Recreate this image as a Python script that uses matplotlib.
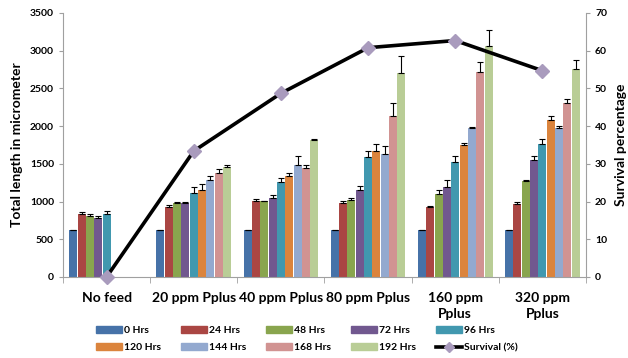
import matplotlib.pyplot as plt
import matplotlib.patches as mpatches
from matplotlib.lines import Line2D
import numpy as np

plt.rcParams['font.family'] = ['Lato', 'DejaVu Sans']

groups = ['No feed', '20 ppm Pplus', '40 ppm Pplus', '80 ppm Pplus',
          '160 ppm\nPplus', '320 ppm\nPplus']
hours = ['0 Hrs', '24 Hrs', '48 Hrs', '72 Hrs', '96 Hrs',
         '120 Hrs', '144 Hrs', '168 Hrs', '192 Hrs']
colors = ['#4672a8', '#aa4643', '#89a54e', '#71588f', '#4198af',
          '#db843d', '#93a9cf', '#d19392', '#b9cd96']

# rows = hours, columns = groups (nan = no bar)
nan = np.nan
length = [
    [620, 620, 620, 620, 620, 620],
    [832, 934, 1009, 982, 934, 969],
    [810, 978, 1004, 1027, 1097, 1270],
    [783, 987, 1044, 1150, 1195, 1549],
    [832, 1115, 1257, 1589, 1527, 1766],
    [nan, 1159, 1341, 1664, 1748, 2075],
    [nan, 1288, 1487, 1633, 1978, 1978],
    [nan, 1381, 1451, 2133, 2717, 2305],
    [nan, 1456, 1814, 2699, 3067, 2761],
]
errors = [
    [0, 0, 0, 0, 0, 0],
    [35, 22, 31, 25, 10, 26],
    [27, 13, 10, 15, 62, 22],
    [27, 13, 49, 60, 88, 49],
    [49, 84, 49, 80, 75, 66],
    [nan, 80, 44, 93, 30, 66],
    [nan, 49, 115, 110, 13, 22],
    [nan, 49, 31, 168, 128, 53],
    [nan, 27, 22, 230, 212, 120],
]
survival = [0, 33.4, 48.7, 60.8, 62.7, 54.7]

fig = plt.figure(figsize=(6.28, 3.58), dpi=100)
ax = fig.add_axes([63 / 628, 1 - 277 / 358, 523 / 628, 264 / 358])

x = np.arange(len(groups))
n = len(hours)
w = 0.862 / n
handles = []
for i in range(n):
    pos = x - 0.431 + w * (i + 0.5)
    vals = np.array(length[i], dtype=float)
    errs = np.array(errors[i], dtype=float)
    ax.bar(pos, vals, width=w * 0.96, color=colors[i], edgecolor='none', zorder=2)
    ok = ~np.isnan(vals)
    ax.errorbar(pos[ok], vals[ok], yerr=[np.zeros(ok.sum()), errs[ok]],
                fmt='none', ecolor='black', elinewidth=0.8, capsize=2.2,
                capthick=0.8, zorder=3)
    handles.append(mpatches.Patch(color=colors[i], label=hours[i]))

ax.set_xlim(-0.5, len(groups) - 0.5)
ax.set_ylim(0, 3500)
ax.set_yticks(np.arange(0, 3501, 500))
ax.set_xticks(x)
ax.set_xticklabels(groups, fontsize=10, fontweight='bold', linespacing=1.35)
ax.set_xticks(np.arange(-0.5, len(groups), 1), minor=True)
ax.tick_params(axis='x', which='major', length=0, pad=11)
ax.tick_params(axis='x', which='minor', length=4, color='#a0a0a0', direction='out')
ax.tick_params(axis='y', labelsize=7.5, length=3, color='#a0a0a0')
for lab in ax.get_yticklabels():
    lab.set_fontweight('bold')
ax.set_ylabel('Total length in micrometer', fontsize=10, fontweight='bold', labelpad=5)
for s in ['top', 'right']:
    ax.spines[s].set_visible(False)
for s in ['left', 'bottom']:
    ax.spines[s].set_color('#a0a0a0')

ax2 = ax.twinx()
ax2.plot(x, survival, color='black', lw=2.6, marker='D', markersize=7,
         markerfacecolor='#a99bbd', markeredgecolor='#a99bbd', zorder=5,
         clip_on=False)
ax2.set_ylim(0, 70)
ax2.set_yticks(np.arange(0, 71, 10))
ax2.tick_params(axis='y', labelsize=7.5, length=3, color='#a0a0a0')
for lab in ax2.get_yticklabels():
    lab.set_fontweight('bold')
ax2.set_ylabel('Survival percentage', fontsize=10, fontweight='bold', labelpad=6)
for s in ['top', 'left', 'bottom']:
    ax2.spines[s].set_visible(False)
ax2.spines['right'].set_color('#a0a0a0')

handles.append(Line2D([0], [0], color='black', lw=2.6, marker='D', markersize=5,
                      markerfacecolor='#a99bbd', markeredgecolor='#a99bbd',
                      label='Survival (%)'))
order = [0, 5, 1, 6, 2, 7, 3, 8, 4, 9]
leg = fig.legend([handles[k] for k in order], [handles[k].get_label() for k in order],
                 ncol=5, loc='center', bbox_to_anchor=(0.489, 0.053),
                 frameon=False, handlelength=2.5, handleheight=0.7,
                 handletextpad=0.2, columnspacing=1.9, labelspacing=0.75,
                 prop={'size': 7.5, 'weight': 'bold'})

fig.savefig('out.png', dpi=100, facecolor='white')
